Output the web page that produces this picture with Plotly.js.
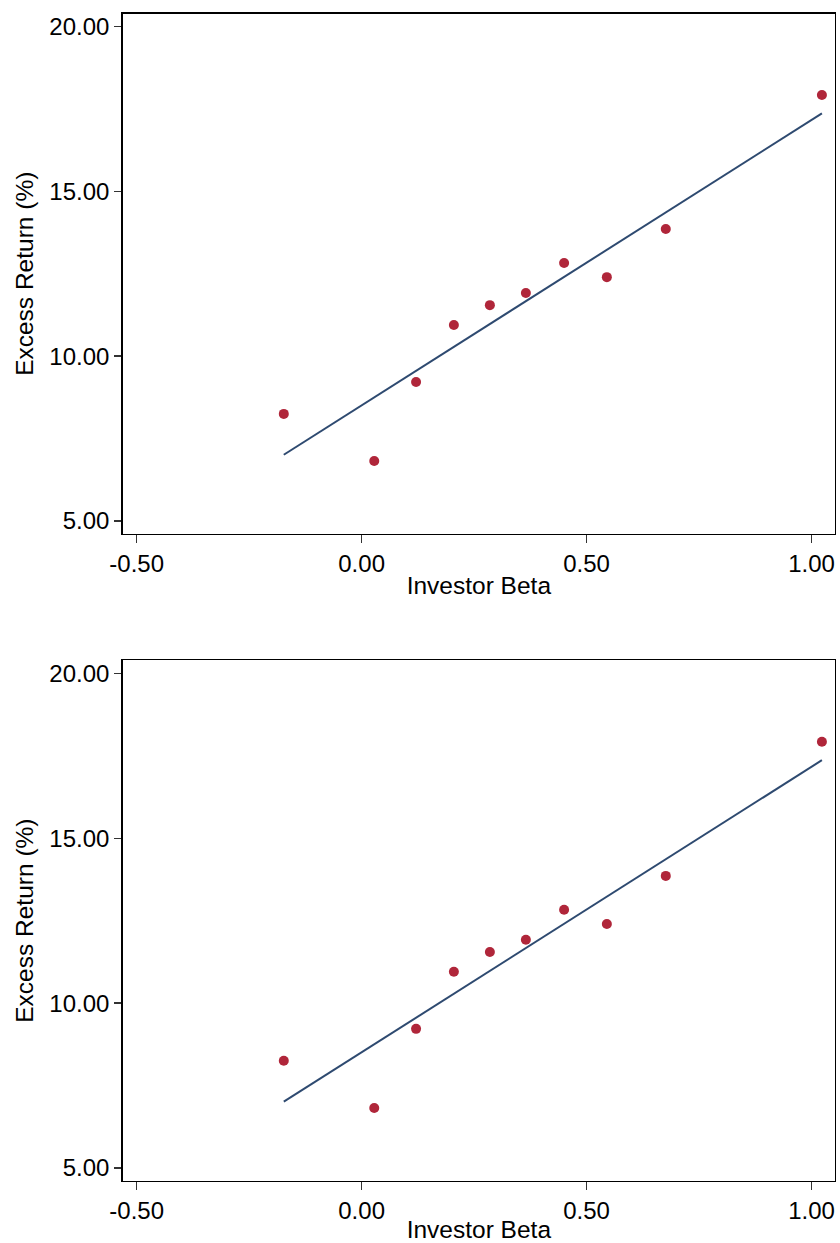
<!DOCTYPE html>
<html>
<head>
<meta charset="utf-8">
<script src="https://cdn.plot.ly/plotly-3.0.1.min.js"></script>
<style>html,body{margin:0;padding:0;background:#fff;}#chart{width:840px;height:1243px;}</style>
</head>
<body>
<div id="chart"></div>
<script>
const investorBeta = [-0.173, 0.028, 0.121, 0.205, 0.285, 0.365, 0.450, 0.545, 0.676, 1.023];
const excessReturn = [8.25, 6.82, 9.22, 10.95, 11.55, 11.92, 12.83, 12.40, 13.86, 17.93];
const fitBeta = [-0.173, 1.023];
const fitReturn = [7.01, 17.37];
const xTickVals = [-0.5, 0, 0.5, 1.0];
const xTickText = ["-0.50", "0.00", "0.50", "1.00"];
const yTickVals = [5, 10, 15, 20];
const yTickText = ["5.00", "10.00", "15.00", "20.00"];

const font = {family: "Liberation Sans, Arial, Helvetica, sans-serif", size: 24, color: "#000"};
const titleFont = {family: "Liberation Sans, Arial, Helvetica, sans-serif", size: 24.5, color: "#000"};
const dotColor = "#b0263a";
const lineColor = "#2e4a70";

const traces = [];
["", "2"].forEach(s => {
  traces.push({x: investorBeta, y: excessReturn, type: "scatter", mode: "markers",
    marker: {color: dotColor, size: 10}, xaxis: "x" + s, yaxis: "y" + s, showlegend: false, hoverinfo: "x+y"});
  traces.push({x: fitBeta, y: fitReturn, type: "scatter", mode: "lines",
    line: {color: lineColor, width: 2}, xaxis: "x" + s, yaxis: "y" + s, showlegend: false});
});

function xax(anchor) {
  return {domain: [0.1461, 0.9940], anchor: anchor, range: [-0.531, 1.052],
    tickvals: xTickVals, ticktext: xTickText, ticks: "outside", ticklen: 8, tickwidth: 1.5, tickcolor: "#333",
    showline: true, mirror: true, linecolor: "#000", linewidth: 1.5, showgrid: false, zeroline: false,
    tickfont: font, title: {text: "Investor Beta", font: titleFont, standoff: 0}, automargin: false};
}
function yax(anchor, dom) {
  return {domain: dom, anchor: anchor, range: [4.605, 20.40],
    tickvals: yTickVals, ticktext: yTickText, ticks: "outside", ticklen: 7, tickwidth: 1.5, tickcolor: "#333",
    showline: true, mirror: true, linecolor: "#000", linewidth: 1.5, showgrid: false, zeroline: false,
    tickfont: font, title: {text: "Excess Return (%)", font: titleFont, standoff: 9}, automargin: false};
}

const layout = {
  width: 840, height: 1243,
  margin: {l: 0, r: 0, t: 0, b: 0},
  paper_bgcolor: "#fff", plot_bgcolor: "#fff",
  font: font,
  xaxis: xax("y"), yaxis: yax("x", [0.5704, 0.9891]),
  xaxis2: xax("y2"), yaxis2: yax("x2", [0.0499, 0.4688]),
  showlegend: false
};
Plotly.newPlot("chart", traces, layout, {displayModeBar: false, staticPlot: true});
</script>
</body>
</html>
